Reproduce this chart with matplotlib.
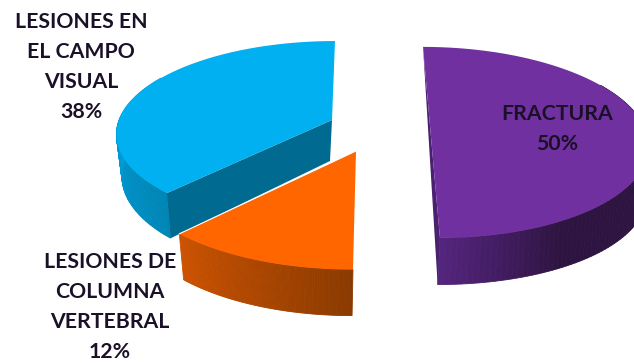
import numpy as np
import matplotlib
matplotlib.use('Agg')
import matplotlib.pyplot as plt
from matplotlib.colors import to_rgb

# Donnees du camembert
categories = ['FRACTURA', 'LESIONES DE\nCOLUMNA\nVERTEBRAL', 'LESIONES EN\nEL CAMPO\nVISUAL']
valeurs = [50, 12, 38]

# Position de chaque part (pixels) : pointe, rayons, biais, pointe du bas, echelles du bas
pointes = [(430.3, 129), (356, 151), (332, 120)]
rayons = [(215, 93.6), (229, 102), (213, 90)]
biais = [-8.3, 2.6, 3.4]
pointes_bas = [(428, 179), (355, 197), (330, 161)]
echelles_bas = [(1.0, 0.97), (0.97, 1.0), (0.965, 1.057)]

couleurs_dessus = ['#7030A0', '#FF6600', '#00B0F0']
couleurs_coupe = ['#4A2070', '#8A3A00', '#006A90']
# degrade du mur exterieur : angle debut, angle fin, couleur debut, couleur fin
degrades = [(180, 150, '#54257E', '#2E1440'),
            (180, 223, '#8A3A00', '#CC5200'),
            (223, 280, '#0085B5', '#00A2DE')]
# partie visible du mur exterieur
murs_visibles = [(60, 180), (180, 223.2), (223.2, 300)]

# ligne de base de la premiere ligne de chaque etiquette
positions_texte = [(557, 120.5), (110, 268), (81, 27.5)]
interligne = 30
perspective = 0.14


def point(theta, i, bas=False):
    t = np.radians(theta)
    w = 1 + perspective * np.cos(t)
    x = (rayons[i][0] * np.sin(t) + biais[i] * np.cos(t)) / w
    y = -rayons[i][1] * np.cos(t) / w
    if bas:
        return pointes_bas[i][0] + x * echelles_bas[i][0], pointes_bas[i][1] + y * echelles_bas[i][1]
    return pointes[i][0] + x, pointes[i][1] + y


def melange(c1, c2, f):
    f = min(max(f, 0), 1)
    return tuple(a + (b - a) * f for a, b in zip(to_rgb(c1), to_rgb(c2)))


# angles de chaque part a partir des valeurs
bornes = np.cumsum([0] + valeurs) * 360 / sum(valeurs)

fig = plt.figure(figsize=(6.34, 3.63), dpi=100)
ax = fig.add_axes([0, 0, 1, 1])
ax.set_xlim(0, 634)
ax.set_ylim(363, 0)
ax.axis('off')

# on dessine bleu, violet puis orange
for i in [2, 0, 1]:
    a0, a1 = bornes[i], bornes[i + 1]

    # mur exterieur en bandes
    d0, d1, c0, c1 = degrades[i]
    angles_mur = np.linspace(murs_visibles[i][0], murs_visibles[i][1], 90)
    for a, b in zip(angles_mur[:-1], angles_mur[1:]):
        xa, ya = point(a, i)
        xb, yb = point(b, i)
        xc, yc = point(b, i, True)
        xd, yd = point(a, i, True)
        c = melange(c0, c1, ((a + b) / 2 - d0) / (d1 - d0))
        ax.fill([xa, xb, xc, xd], [ya, yb, yc, yd], color=c, lw=0.6)

    # face coupee
    if i == 0:
        xa, ya = point(a0, i)
        xb, yb = point(a1, i)
        xc, yc = point(a1, i, True)
        ax.fill([xa, xb, xc], [ya, yb, yc], color=couleurs_coupe[i], lw=0)
    if i == 2:
        xb, yb = point(a0, i)
        xc, yc = point(a0, i, True)
        ax.fill([pointes[i][0], xb, xc, pointes_bas[i][0]],
                [pointes[i][1], yb, yc, pointes_bas[i][1]], color=couleurs_coupe[i], lw=0)

    # dessus
    pts = [point(a, i) for a in np.linspace(a0, a1, 90)]
    if i == 0:
        xs = [p[0] for p in pts]
        ys = [p[1] for p in pts]
    else:
        xs = [pointes[i][0]] + [p[0] for p in pts]
        ys = [pointes[i][1]] + [p[1] for p in pts]
    ax.fill(xs, ys, color=couleurs_dessus[i], lw=0)

    # lisere blanc de la part orange
    if i == 1:
        xe, ye = point(a1, i)
        ax.plot([xe, pointes[i][0]], [ye, pointes[i][1]], color='white', lw=0.8)

# etiquettes, une ligne a la fois
for i in range(3):
    lignes = categories[i].split('\n') + [str(valeurs[i]) + '%']
    for n, ligne in enumerate(lignes):
        ax.text(positions_texte[i][0], positions_texte[i][1] + n * interligne, ligne,
                ha='center', va='baseline', family='Lato', weight='bold',
                fontsize=15.3, color='#1A1028')

fig.savefig('out.png', dpi=100)
